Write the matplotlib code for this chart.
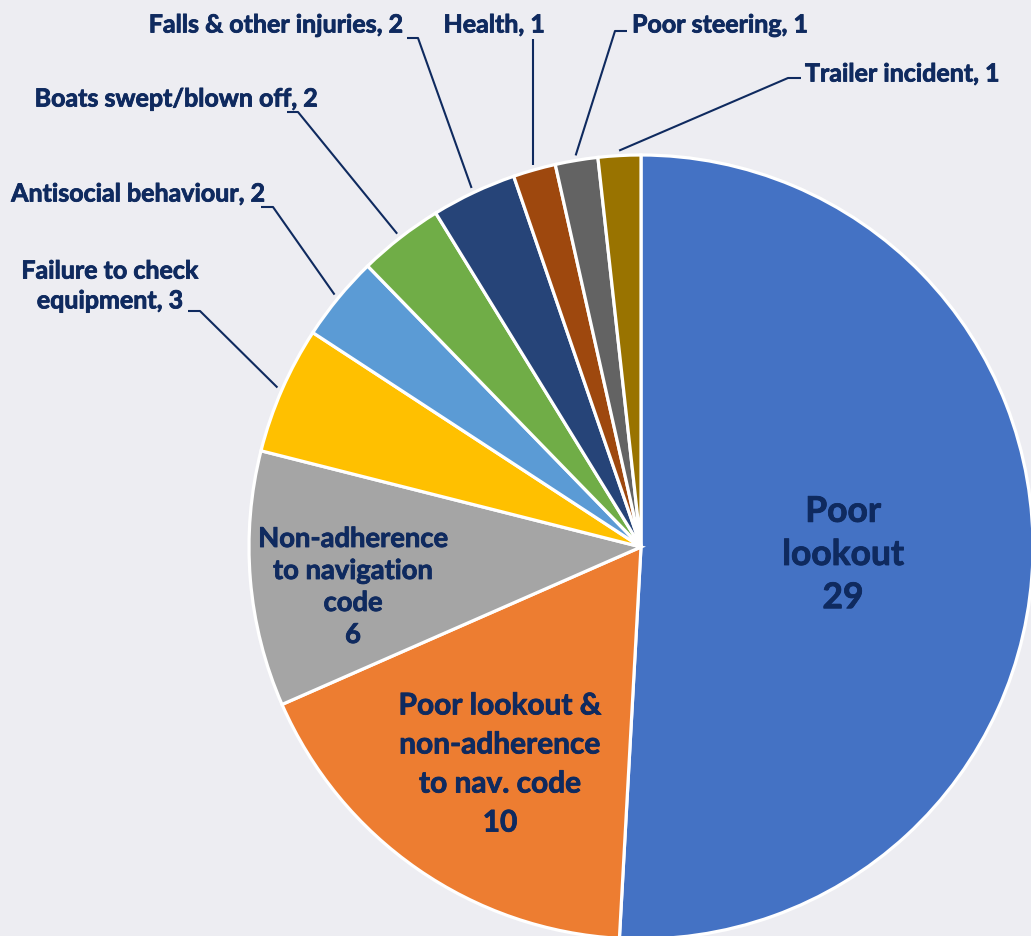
import numpy as np
import matplotlib.pyplot as plt
import matplotlib.patheffects as pe

# incident causes, clockwise from 12 o'clock
causes = ["Poor lookout", "Poor lookout & non-adherence to nav. code",
          "Non-adherence to navigation code", "Failure to check equipment",
          "Antisocial behaviour", "Boats swept/blown off", "Falls & other injuries",
          "Health", "Poor steering", "Trailer incident"]
counts = [29, 10, 6, 3, 2, 2, 2, 1, 1, 1]
colors = ["#4472C4", "#ED7D31", "#A5A5A5", "#FFC000", "#5B9BD5",
          "#70AD47", "#264478", "#9E480E", "#636363", "#997300"]

inside_text = ["Poor\nlookout\n29", "Poor lookout &\nnon-adherence\nto nav. code\n10",
               "Non-adherence\nto navigation\ncode\n6"]
outside_text = ["Failure to check\nequipment, 3", "Antisocial behaviour, 2",
                "Boats swept/blown off, 2", "Falls & other injuries, 2",
                "Health, 1", "Poor steering, 1", "Trailer incident, 1"]

W, H = 1031, 937
bg = "#EDEDF2"
navy = "#0F2A5F"
plt.rcParams['font.family'] = ['Lato', 'DejaVu Sans']

fig = plt.figure(figsize=(W / 100, H / 100), dpi=100)
fig.patch.set_facecolor(bg)
ax = fig.add_axes([0, 0, 1, 1])

cx, cy, R = 641, H - 548, 392
wedges, _ = ax.pie(counts, colors=colors, startangle=90, counterclock=False,
                   center=(cx, cy), radius=R, frame=True,
                   wedgeprops=dict(edgecolor="white", linewidth=2.3))
ax.set_xlim(0, W)
ax.set_ylim(0, H)
ax.set_axis_off()

# slightly heavier glyphs, closer to the original's bold face
thick = [pe.withStroke(linewidth=0.6, foreground=navy)]

# labels inside the three big slices (pixel positions, y from top)
inside_pos = [(843, 556, 25.5, 1.43), (500, 765, 21.5, 1.48), (353, 588, 19.7, 1.4)]
for txt, (x, y, fs, ls) in zip(inside_text, inside_pos):
    ax.text(x, H - y, txt, ha="center", va="center", fontsize=fs,
            fontweight="bold", color=navy, linespacing=ls, path_effects=thick)

# outside labels: text anchor, alignment, bend point, end of the short tail
outside_pos = [
    ((110, 287), "center", (200, 312), (188, 312)),
    ((266, 195), "right", (273, 208), (261, 208)),
    ((318, 100), "right", (298, 113), (287, 113)),
    ((404, 26), "right", (418, 39), (407, 39)),
    ((545, 26), "right", None, None),
    ((632, 26), "left", (615, 32), (627, 32)),
    ((805, 75), "left", (788, 79), (801, 79)),
]
for i, (txt, (tpos, ha, bend, tail)) in enumerate(zip(outside_text, outside_pos)):
    w = wedges[i + 3]
    a = np.deg2rad((w.theta1 + w.theta2) / 2)
    sx, sy = cx + (R + 5) * np.cos(a), cy + (R + 5) * np.sin(a)
    if bend is None:
        xs, ys = [sx, sx], [sy, H - 40]
    else:
        xs = [sx, bend[0], tail[0]]
        ys = [sy, H - bend[1], H - tail[1]]
    ax.plot(xs, ys, color=navy, lw=1.5, solid_capstyle="butt")
    ax.text(tpos[0], H - tpos[1], txt, ha=ha, va="center", fontsize=18,
            fontweight="bold", color=navy, linespacing=1.36, path_effects=thick)

fig.savefig("out.png", dpi=100, facecolor=bg)
